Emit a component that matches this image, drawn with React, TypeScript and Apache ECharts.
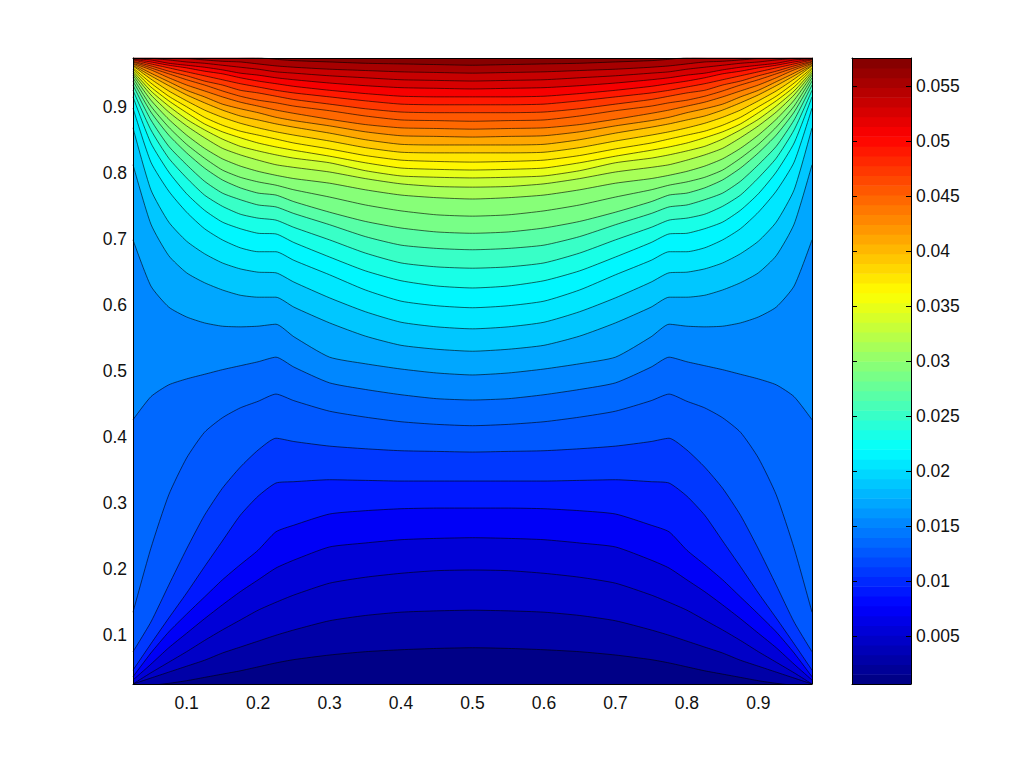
import React, { useEffect, useRef } from "react";
import * as echarts from "echarts";

const xNodes = [0.025, 0.05, 0.075, 0.1, 0.125, 0.15, 0.175, 0.2, 0.225, 0.25, 0.3, 0.35, 0.4, 0.45, 0.5, 0.55, 0.6, 0.65, 0.7, 0.75, 0.775, 0.8, 0.825, 0.85, 0.875, 0.9, 0.925, 0.95, 0.975];

// Contour heights, lowest level first, one value per xNodes entry.
const c01 = [.022,.023,.026,.030,.035,.040,.045,.051,.057,.062,.069,.074,.077,.079,.080,.079,.077,.074,.069,.062,.057,.051,.045,.040,.035,.030,.026,.023,.022];
const c02 = [.025,.034,.043,.052,.061,.072,.081,.090,.099,.107,.121,.129,.134,.136,.137,.136,.134,.129,.121,.107,.099,.090,.081,.072,.061,.052,.043,.034,.025];
const c03 = [.025,.042,.058,.074,.091,.107,.122,.137,.149,.160,.178,.187,.193,.197,.198,.197,.193,.187,.178,.160,.149,.137,.122,.107,.091,.074,.058,.042,.025];
const c04 = [.031,.055,.080,.102,.124,.145,.165,.183,.201,.213,.233,.239,.244,.246,.247,.246,.244,.239,.233,.213,.201,.183,.165,.145,.124,.102,.080,.055,.031];
const c05 = [.036,.072,.104,.131,.157,.183,.206,.228,.256,.266,.283,.288,.291,.292,.292,.292,.291,.288,.283,.266,.256,.228,.206,.183,.157,.131,.104,.072,.036];
const c06 = [.046,.086,.125,.163,.203,.242,.281,.310,.330,.332,.335,.334,.333,.333,.333,.333,.333,.334,.335,.332,.330,.310,.281,.242,.203,.163,.125,.086,.046];
const c07 = [.074,.119,.175,.230,.281,.322,.354,.380,.398,.393,.386,.382,.379,.378,.377,.378,.379,.382,.386,.393,.398,.380,.354,.322,.281,.230,.175,.119,.074];
const c08 = [.134,.231,.312,.368,.407,.429,.444,.454,.465,.455,.439,.430,.423,.419,.417,.419,.423,.430,.439,.455,.465,.454,.444,.429,.407,.368,.312,.231,.134];
const c09 = [.426,.461,.479,.488,.495,.502,.508,.514,.521,.506,.482,.472,.464,.458,.456,.458,.464,.472,.482,.506,.521,.514,.508,.502,.495,.488,.479,.461,.426];
const c10 = [.699,.629,.597,.582,.573,.568,.567,.568,.571,.552,.521,.511,.503,.497,.494,.497,.503,.511,.521,.552,.571,.568,.567,.568,.573,.582,.597,.629,.699];
const c11 = [.813,.723,.675,.649,.634,.623,.615,.612,.612,.597,.573,.553,.539,.533,.530,.533,.539,.553,.573,.597,.612,.612,.615,.623,.634,.649,.675,.723,.813];
const c12 = [.869,.775,.726,.697,.678,.664,.655,.650,.649,.635,.611,.590,.574,.567,.564,.567,.574,.590,.611,.635,.649,.650,.655,.664,.678,.697,.726,.775,.869];
const c13 = [.899,.817,.773,.741,.716,.699,.687,.681,.681,.668,.646,.623,.606,.599,.596,.599,.606,.623,.646,.668,.681,.681,.687,.699,.716,.741,.773,.817,.899];
const c14 = [.916,.846,.802,.769,.744,.726,.716,.709,.708,.695,.673,.652,.637,.629,.626,.629,.637,.652,.673,.695,.708,.709,.716,.726,.744,.769,.802,.846,.916];
const c15 = [.926,.866,.823,.793,.767,.750,.738,.732,.729,.718,.699,.679,.664,.658,.656,.658,.664,.679,.699,.718,.729,.732,.738,.750,.767,.793,.823,.866,.926];
const c16 = [.934,.881,.841,.813,.788,.770,.760,.752,.749,.739,.722,.704,.691,.686,.684,.686,.691,.704,.722,.739,.749,.752,.760,.770,.788,.813,.841,.881,.934];
const c17 = [.940,.893,.858,.831,.808,.790,.778,.770,.767,.757,.741,.727,.717,.711,.709,.711,.717,.727,.741,.757,.767,.770,.778,.790,.808,.831,.858,.893,.940];
const c18 = [.945,.902,.870,.844,.823,.805,.794,.787,.782,.775,.764,.752,.743,.737,.735,.737,.743,.752,.764,.775,.782,.787,.794,.805,.823,.844,.870,.902,.945];
const c19 = [.949,.911,.882,.858,.838,.822,.811,.803,.797,.792,.785,.775,.767,.763,.761,.763,.767,.775,.785,.792,.797,.803,.811,.822,.838,.858,.882,.911,.949];
const c20 = [.952,.919,.893,.872,.854,.838,.828,.820,.813,.809,.802,.792,.784,.780,.779,.780,.784,.792,.802,.809,.813,.820,.828,.838,.854,.872,.893,.919,.952];
const c21 = [.955,.925,.902,.882,.866,.852,.841,.834,.828,.823,.816,.804,.796,.794,.793,.794,.796,.804,.816,.823,.828,.834,.841,.852,.866,.882,.902,.925,.955];
const c22 = [.958,.931,.910,.892,.875,.863,.854,.846,.840,.835,.826,.816,.808,.806,.805,.806,.808,.816,.826,.835,.840,.846,.854,.863,.875,.892,.910,.931,.958];
const c23 = [.960,.937,.917,.901,.885,.873,.864,.858,.852,.846,.837,.827,.820,.818,.817,.818,.820,.827,.837,.846,.852,.858,.864,.873,.885,.901,.917,.937,.960];
const c24 = [.963,.943,.925,.910,.896,.885,.876,.869,.863,.858,.849,.839,.832,.831,.831,.831,.832,.839,.849,.858,.863,.869,.876,.885,.896,.910,.925,.943,.963];
const c25 = [.964,.948,.933,.919,.907,.896,.887,.881,.875,.870,.861,.851,.844,.843,.843,.843,.844,.851,.861,.870,.875,.881,.887,.896,.907,.919,.933,.948,.964];
const c26 = [.966,.952,.939,.926,.916,.905,.898,.892,.885,.880,.872,.863,.857,.856,.855,.856,.857,.863,.872,.880,.885,.892,.898,.905,.916,.926,.939,.952,.966];
const c27 = [.967,.957,.945,.934,.925,.916,.908,.902,.896,.891,.882,.874,.869,.868,.867,.868,.869,.874,.882,.891,.896,.902,.908,.916,.925,.934,.945,.957,.967];
const c28 = [.969,.960,.951,.942,.934,.925,.917,.911,.907,.902,.895,.887,.881,.880,.879,.880,.881,.887,.895,.902,.907,.911,.917,.925,.934,.942,.951,.960,.969];
const c29 = [.970,.963,.955,.948,.940,.934,.926,.922,.917,.912,.905,.898,.893,.892,.892,.892,.893,.898,.905,.912,.917,.922,.926,.934,.940,.948,.955,.963,.970];
const c30 = [.972,.966,.960,.954,.948,.942,.936,.931,.926,.922,.916,.910,.905,.904,.904,.904,.905,.910,.916,.922,.926,.931,.936,.942,.948,.954,.960,.966,.972];
const c31 = [.973,.969,.964,.960,.955,.951,.945,.940,.936,.932,.926,.921,.917,.916,.916,.916,.917,.921,.926,.932,.936,.940,.945,.951,.955,.960,.964,.969,.973];
const c32 = [.974,.972,.967,.964,.961,.957,.952,.949,.945,.942,.937,.933,.930,.929,.928,.929,.930,.933,.937,.942,.945,.949,.952,.957,.961,.964,.967,.972,.974];
const c33 = [.974,.974,.972,.969,.967,.964,.961,.958,.954,.952,.948,.945,.942,.941,.940,.941,.942,.945,.948,.952,.954,.958,.961,.964,.967,.969,.972,.974,.974];
const c34 = [.975,.975,.974,.974,.972,.970,.969,.966,.963,.961,.958,.956,.954,.953,.952,.953,.954,.956,.958,.961,.963,.966,.969,.970,.972,.974,.974,.975,.975];
const c35 = [.990,.987,.984,.983,.981,.979,.977,.976,.973,.971,.969,.967,.966,.965,.964,.965,.966,.967,.969,.971,.973,.976,.977,.979,.981,.983,.984,.987,.990];

const contours = [c01,c02,c03,c04,c05,c06,c07,c08,c09,c10,c11,c12,c13,c14,c15,c16,c17,c18,c19,c20,c21,c22,c23,c24,c25,c26,c27,c28,c29,c30,c31,c32,c33,c34,c35];

const plotTicks = [0.1, 0.2, 0.3, 0.4, 0.5, 0.6, 0.7, 0.8, 0.9];
const barTicks = [0.005, 0.01, 0.015, 0.02, 0.025, 0.03, 0.035, 0.04, 0.045, 0.05, 0.055];
const barMin = 0.00064;
const barMax = 0.05755;
const colorSteps = 64;

const clamp = (v: number) => Math.max(0, Math.min(1, v));
const jet = (t: number) => {
  const ch = (c: number) => Math.round(255 * clamp(1.5 - Math.abs(4 * t - c)));
  return `rgb(${ch(3)},${ch(2)},${ch(1)})`;
};
const palette = Array.from({ length: colorSteps }, (_, k) => jet((k + 0.5) / colorSteps));
const bandColor = (i: number) => palette[Math.round((i * (colorSteps - 1)) / contours.length)];

const FONT = "'Liberation Sans', Arial, sans-serif";
const labelStyle = { color: "#111", fontFamily: FONT, fontSize: 17.5 };
const frameLine = { show: true, onZero: false, lineStyle: { color: "#000", width: 1 } };

export default function App() {
  const ref = useRef<HTMLDivElement>(null);
  useEffect(() => {
    const chart = echarts.init(ref.current!, null, { renderer: "svg" });
    const barRows = palette.map((_, k) => [
      barMin + ((barMax - barMin) * k) / colorSteps,
      barMin + ((barMax - barMin) * (k + 1)) / colorSteps,
    ]);
    const lineSeries = contours.map((ys, i) => ({
      type: "line",
      xAxisIndex: 0,
      yAxisIndex: 0,
      data: ys.map((y, j) => [xNodes[j], y]),
      showSymbol: false,
      symbol: "none",
      silent: true,
      smooth: 0.2,
      smoothMonotone: "none",
      clip: true,
      lineStyle: { color: "#000", width: 0.7, opacity: 0.85 },
      areaStyle: { origin: "end", color: bandColor(i + 1), opacity: 1 },
      z: 2,
    }));
    chart.setOption({
      animation: false,
      backgroundColor: "#fff",
      grid: [
        { left: 133, top: 58, width: 679, height: 626, show: true, backgroundColor: bandColor(0), borderWidth: 0 },
        { left: 852, top: 58, width: 59, height: 626, show: false },
      ],
      xAxis: [
        {
          type: "value", gridIndex: 0, min: 0.025, max: 0.975, position: "bottom", z: 10,
          axisLine: frameLine, axisTick: { show: false }, splitLine: { show: false },
          axisLabel: { ...labelStyle, margin: 10, customValues: plotTicks, formatter: (v: number) => String(v) },
        },
        {
          type: "value", gridIndex: 0, min: 0.025, max: 0.975, position: "top", z: 10,
          axisLine: frameLine, axisTick: { show: false }, axisLabel: { show: false }, splitLine: { show: false },
        },
        {
          type: "value", gridIndex: 1, min: 0, max: 1, position: "bottom", z: 10,
          axisLine: frameLine, axisTick: { show: false }, axisLabel: { show: false }, splitLine: { show: false },
        },
        {
          type: "value", gridIndex: 1, min: 0, max: 1, position: "top", z: 10,
          axisLine: frameLine, axisTick: { show: false }, axisLabel: { show: false }, splitLine: { show: false },
        },
      ],
      yAxis: [
        {
          type: "value", gridIndex: 0, min: 0.025, max: 0.975, position: "left", z: 10,
          axisLine: frameLine, axisTick: { show: false }, splitLine: { show: false },
          axisLabel: { ...labelStyle, margin: 6, customValues: plotTicks, formatter: (v: number) => String(v) },
        },
        {
          type: "value", gridIndex: 0, min: 0.025, max: 0.975, position: "right", z: 10,
          axisLine: frameLine, axisTick: { show: false }, axisLabel: { show: false }, splitLine: { show: false },
        },
        {
          type: "value", gridIndex: 1, min: barMin, max: barMax, position: "left", z: 10,
          axisLine: frameLine, splitLine: { show: false }, axisLabel: { show: false },
          axisTick: { show: true, inside: true, length: 5, customValues: barTicks, lineStyle: { color: "#000", width: 1 } },
        },
        {
          type: "value", gridIndex: 1, min: barMin, max: barMax, position: "right", z: 10,
          axisLine: frameLine, splitLine: { show: false },
          axisTick: { show: true, inside: true, length: 5, customValues: barTicks, lineStyle: { color: "#000", width: 1 } },
          axisLabel: { ...labelStyle, margin: 5, customValues: barTicks, formatter: (v: number) => String(v) },
        },
      ],
      series: [
        ...lineSeries,
        {
          type: "custom",
          xAxisIndex: 2,
          yAxisIndex: 2,
          silent: true,
          clip: true,
          data: barRows,
          encode: { y: [0, 1] },
          renderItem: (params: any, api: any) => {
            const lowPt = api.coord([0, api.value(0)]);
            const highPt = api.coord([1, api.value(1)]);
            return {
              type: "rect",
              shape: { x: lowPt[0], y: highPt[1], width: highPt[0] - lowPt[0], height: lowPt[1] - highPt[1] + 0.6 },
              style: { fill: palette[params.dataIndex] },
            };
          },
          z: 2,
        },
      ],
    });
    return () => chart.dispose();
  }, []);
  return <div ref={ref} style={{ position: "fixed", left: 0, top: 0, width: 1024, height: 768 }} />;
}
